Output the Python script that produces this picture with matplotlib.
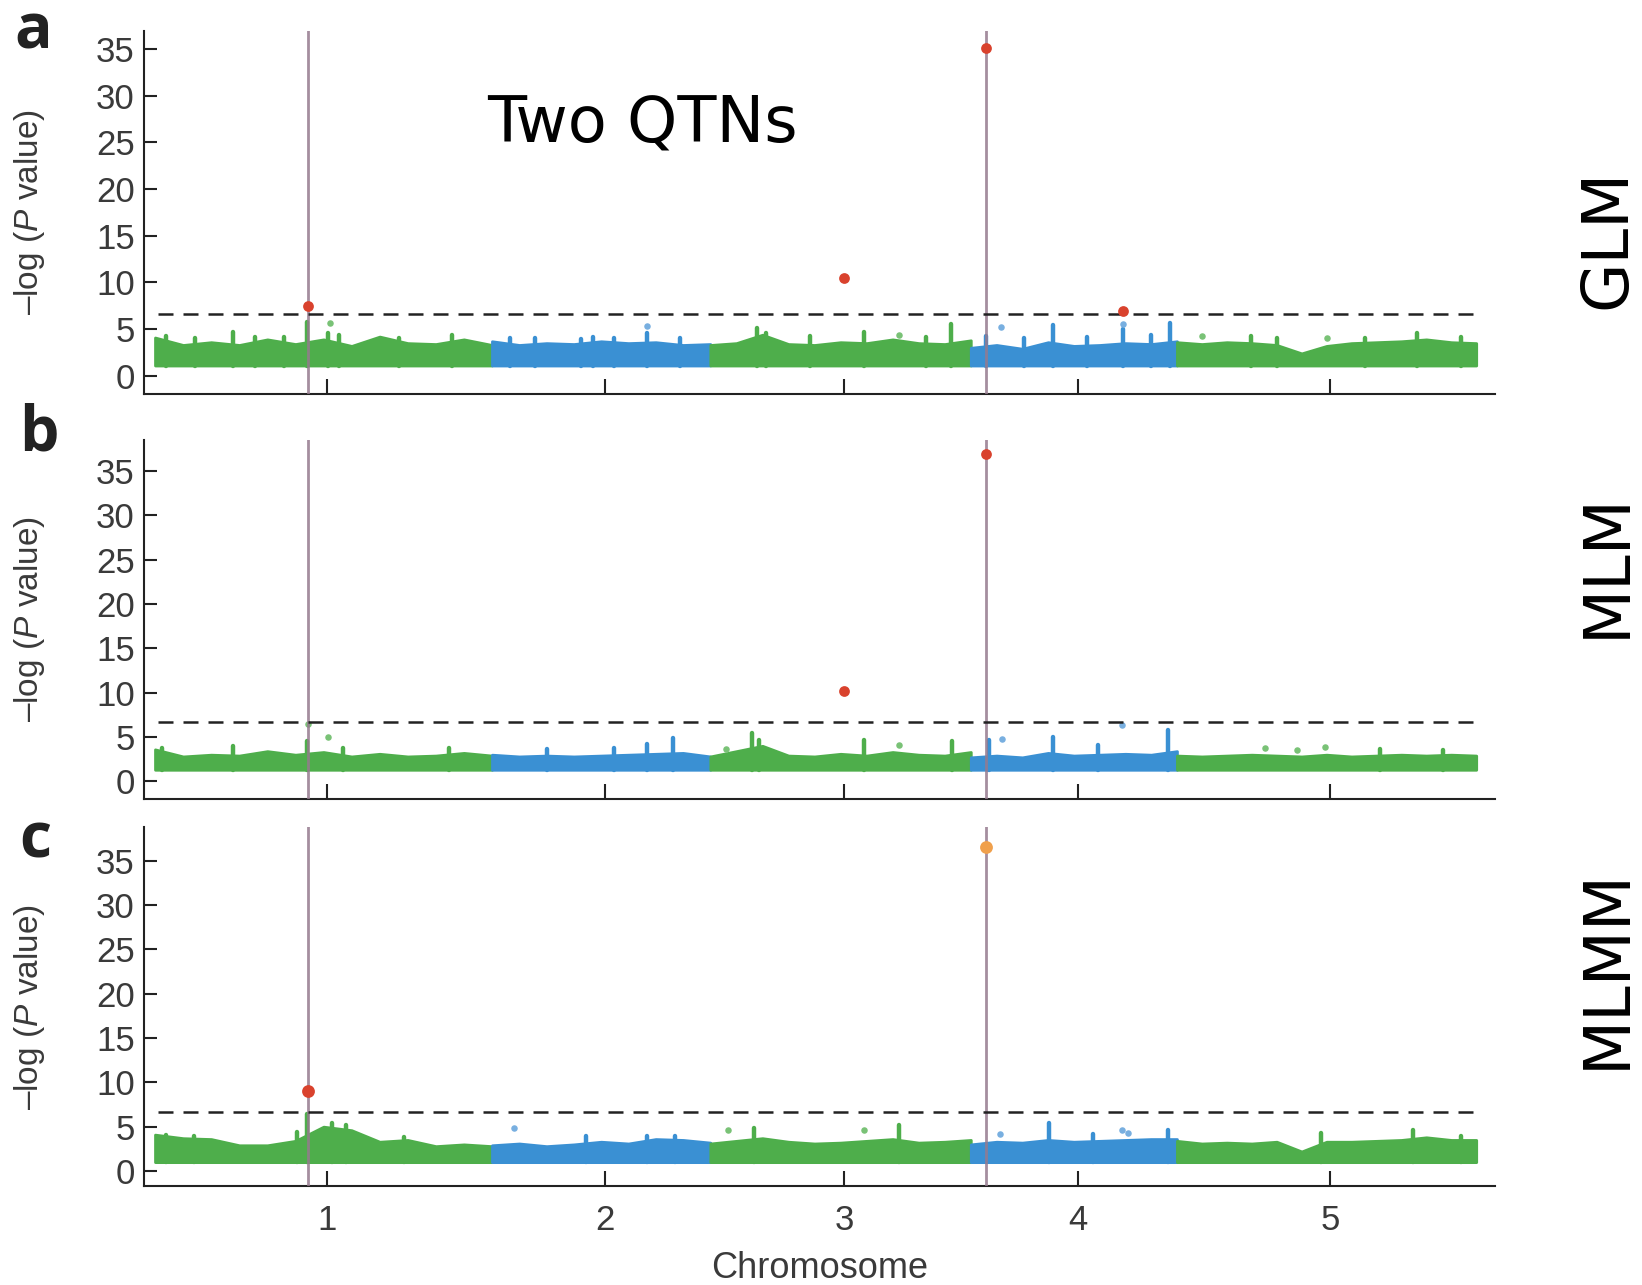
import numpy as np
import matplotlib.pyplot as plt

plt.rcParams['font.family'] = ['Liberation Sans', 'DejaVu Sans']
plt.rcParams['mathtext.fontset'] = 'custom'
plt.rcParams['mathtext.rm'] = 'Liberation Sans'
plt.rcParams['mathtext.it'] = 'Liberation Sans:italic'

# ----------------------------
# Data
# ----------------------------
chrom_len = [30.4, 19.7, 23.5, 18.6, 27.0]          # Mb
chrom_labels = ["1", "2", "3", "4", "5"]
qtn_chrom = [1, 4]
qtn_pos = [13.8, 1.35]
threshold = 6.64

panel_letters = ["a", "b", "c"]
panel_methods = ["GLM", "MLM", "MLMM"]

# upper edge of the dense SNP band, evenly spaced along each chromosome
glm_band = [
    [4.1, 3.3, 3.6, 3.3, 3.9, 3.4, 3.9, 3.2, 4.2, 3.5, 3.4, 3.9, 3.3],
    [3.7, 3.3, 3.5, 3.4, 3.7, 3.5, 3.6, 3.3, 3.4],
    [3.3, 3.5, 4.4, 3.4, 3.3, 3.6, 3.5, 3.9, 3.5, 3.4, 3.8],
    [3.0, 3.3, 2.9, 3.6, 3.2, 3.3, 3.5, 3.4, 3.7],
    [3.6, 3.4, 3.6, 3.5, 3.3, 2.4, 3.2, 3.5, 3.6, 3.7, 3.9, 3.6, 3.5],
]
mlm_band = [
    [3.6, 2.8, 3.0, 2.9, 3.4, 3.0, 3.3, 2.8, 3.1, 2.8, 2.9, 3.2, 2.9],
    [3.0, 2.8, 2.9, 2.8, 2.9, 3.0, 3.1, 3.2, 2.8],
    [2.8, 3.4, 4.0, 2.9, 2.8, 3.1, 2.9, 3.3, 3.0, 2.9, 3.3],
    [2.7, 2.9, 2.7, 3.2, 2.9, 3.0, 3.1, 3.0, 3.4],
    [2.9, 2.8, 2.9, 3.0, 2.9, 2.8, 3.0, 2.8, 2.9, 3.0, 2.9, 3.0, 2.9],
]
mlmm_band = [
    [4.1, 3.7, 3.6, 2.9, 2.9, 3.4, 5.0, 4.6, 3.3, 3.5, 2.8, 3.0, 2.8],
    [2.9, 3.1, 2.8, 3.0, 3.3, 3.1, 3.6, 3.5, 3.2],
    [3.1, 3.4, 3.7, 3.3, 3.1, 3.2, 3.4, 3.6, 3.2, 3.3, 3.5],
    [3.0, 3.3, 3.2, 3.5, 3.3, 3.4, 3.5, 3.6, 3.6],
    [3.4, 3.1, 3.2, 3.1, 3.3, 2.2, 3.3, 3.3, 3.4, 3.5, 3.8, 3.5, 3.5],
]
band_floor = [1.1, 1.3, 1.0]

# narrow peaks rising out of the band: (chromosome, Mb, -log p)
glm_spikes = [(1, 1.0, 4.3), (1, 3.6, 4.1), (1, 7.0, 4.7), (1, 9.0, 4.2), (1, 11.6, 4.2),
              (1, 13.7, 5.8), (1, 15.6, 4.6), (1, 16.6, 4.4), (1, 22.0, 4.0), (1, 26.8, 4.4),
              (2, 1.6, 4.1), (2, 3.9, 4.0), (2, 8.0, 3.9), (2, 9.1, 4.2), (2, 11.0, 4.1),
              (2, 14.0, 4.6), (2, 17.0, 4.0), (3, 4.2, 5.1), (3, 5.0, 4.6), (3, 9.0, 4.3),
              (3, 13.9, 4.7), (3, 19.5, 4.2), (3, 21.7, 5.6), (4, 1.4, 4.3), (4, 4.8, 4.0),
              (4, 7.4, 5.4), (4, 10.5, 4.2), (4, 13.7, 5.0), (4, 16.3, 4.4), (4, 18.0, 5.7),
              (5, 6.7, 4.3), (5, 9.0, 4.0), (5, 17.0, 4.1), (5, 21.7, 4.6), (5, 25.6, 4.2)]
mlm_spikes = [(1, 0.6, 3.8), (1, 7.0, 4.0), (1, 13.7, 4.6), (1, 17.0, 3.8), (1, 26.5, 3.7),
              (2, 5.0, 3.6), (2, 11.0, 3.8), (2, 14.0, 4.2), (2, 16.3, 4.9), (3, 3.8, 5.5),
              (3, 4.4, 4.7), (3, 13.9, 4.7), (3, 21.8, 4.6), (4, 1.6, 4.7), (4, 7.4, 5.0),
              (4, 11.5, 4.1), (4, 17.8, 5.8), (5, 18.3, 3.6), (5, 24.0, 3.5)]
mlmm_spikes = [(1, 1.0, 4.1), (1, 3.5, 4.0), (1, 12.8, 4.4), (1, 13.7, 6.4), (1, 16.0, 5.4),
               (1, 17.2, 5.2), (1, 22.5, 3.8), (2, 8.5, 3.9), (2, 14.0, 4.0), (2, 16.5, 4.0),
               (3, 3.9, 4.8), (3, 17.0, 5.2), (4, 7.1, 5.4), (4, 11.0, 4.2), (4, 17.8, 4.6),
               (5, 13.0, 4.3), (5, 21.3, 4.6), (5, 25.6, 4.0)]

# isolated SNPs above the band
glm_dots = [(1, 15.8, 5.7), (2, 14.0, 5.3), (3, 17.0, 4.4), (4, 2.7, 5.2), (4, 13.7, 5.6),
            (5, 2.3, 4.3), (5, 13.5, 4.1)]
mlm_dots = [(1, 13.8, 6.5), (1, 15.6, 5.0), (3, 1.4, 3.6), (3, 17.0, 4.1), (4, 2.8, 4.8),
            (4, 13.6, 6.3), (5, 7.9, 3.7), (5, 10.8, 3.5), (5, 13.4, 3.9)]
mlmm_dots = [(2, 2.0, 4.8), (3, 1.6, 4.6), (3, 13.9, 4.6), (4, 2.6, 4.2), (4, 13.6, 4.6),
             (4, 14.2, 4.3)]

# significant SNPs
glm_hits = [(1, 13.8, 7.5), (3, 12.1, 10.5), (4, 1.35, 35.1), (4, 13.7, 6.9)]
mlm_hits = [(3, 12.1, 10.2), (4, 1.35, 36.9)]
mlmm_hits = [(1, 13.8, 9.0), (4, 1.35, 36.6)]

# ----------------------------
# Style
# ----------------------------
band_colors = ["#4eae4b", "#3a90d3"]
dot_colors = ["#79c276", "#78afe0"]
red = "#d9422d"
orange = "#f0a04c"
qtn_color = "#957a8e"

offsets = np.concatenate([[0.0], np.cumsum(chrom_len)[:-1]])
centers = offsets + np.array(chrom_len) / 2.0

fig = plt.figure(figsize=(16.42, 12.85), dpi=100)
ax_rects = [
    [0.088, 0.6934, 0.8225, 0.2825],
    [0.088, 0.3782, 0.8225, 0.2794],
    [0.088, 0.0770, 0.8225, 0.2794],
]
ylims = [(-1.95, 36.95), (-2.0, 38.5), (-1.7, 38.8)]
bands = [glm_band, mlm_band, mlmm_band]
spikes_all = [glm_spikes, mlm_spikes, mlmm_spikes]
dots_all = [glm_dots, mlm_dots, mlmm_dots]
hits_all = [glm_hits, mlm_hits, mlmm_hits]
hit_colors = [[red, red, red, red], [red, red], [red, orange]]
hit_sizes = [60, 60, 85]

for k in range(3):
    ax = fig.add_axes(ax_rects[k])
    floor = band_floor[k]

    for i, (L, top) in enumerate(zip(chrom_len, bands[k])):
        xs = offsets[i] + np.linspace(0, L, len(top))
        ax.fill_between(xs, floor, top, facecolor=band_colors[i % 2],
                        edgecolor=band_colors[i % 2], lw=2.0, joinstyle="round",
                        zorder=2)

    for c, p, v in spikes_all[k]:
        ax.vlines(offsets[c - 1] + p, floor, v, color=band_colors[(c - 1) % 2],
                  lw=3.2, capstyle="round", zorder=2)

    for c, p, v in dots_all[k]:
        ax.scatter(offsets[c - 1] + p, v, s=22, color=dot_colors[(c - 1) % 2],
                   lw=0, zorder=2)

    for c, p in zip(qtn_chrom, qtn_pos):
        ax.axvline(offsets[c - 1] + p, color=qtn_color, lw=2.0, alpha=0.85, zorder=3)

    for (c, p, v), col in zip(hits_all[k], hit_colors[k]):
        ax.scatter(offsets[c - 1] + p, v, s=hit_sizes[k], color=col, lw=0, zorder=5)

    ax.hlines(threshold, 0.3, 119.0, color="#222222", lw=1.8,
              linestyle=(0, (6, 4)), zorder=4)

    ax.set_xlim(-0.95, 120.9)
    ax.set_ylim(*ylims[k])
    ax.set_yticks(np.arange(0, 36, 5))
    ax.set_xticks(centers + 0.35)
    for s in ["top", "right"]:
        ax.spines[s].set_visible(False)
    for s in ["left", "bottom"]:
        ax.spines[s].set_linewidth(1.5)
        ax.spines[s].set_color("#222222")
    ax.tick_params(axis="y", direction="in", length=9, width=1.5, pad=7,
                   labelsize=25, colors="#222222", labelcolor="#3a3a3a")
    ax.tick_params(axis="x", direction="in", length=11, width=1.5, pad=13,
                   labelsize=25, colors="#222222", labelcolor="#3a3a3a")
    if k < 2:
        ax.set_xticklabels([])
    else:
        ax.set_xticklabels(chrom_labels)
        ax.set_xlabel("Chromosome", fontsize=26, color="#3a3a3a", labelpad=10)

    ax.set_ylabel("\u2013log ($\\mathit{P}$ value)", fontsize=24, color="#3a3a3a")
    ax.yaxis.set_label_coords(-0.072, 0.5)

# panel letters
letter_pos = [(0.009, 0.9626), (0.0116, 0.6498), (0.012, 0.333)]
for (x, y), letter in zip(letter_pos, panel_letters):
    fig.text(x, y, letter, fontsize=45, fontweight="bold", family="Open Sans",
             color="#222222", va="baseline", ha="left")

# method labels on the right
method_y = [0.814, 0.560, 0.246]
for y, name in zip(method_y, panel_methods):
    fig.text(0.9787, y, name, fontsize=46, family="DejaVu Sans", rotation=90,
             ha="center", va="center", color="black")

fig.text(0.391, 0.904, "Two QTNs", fontsize=46, family="DejaVu Sans",
         ha="center", va="center", color="black")

fig.savefig("out.png", dpi=100)
